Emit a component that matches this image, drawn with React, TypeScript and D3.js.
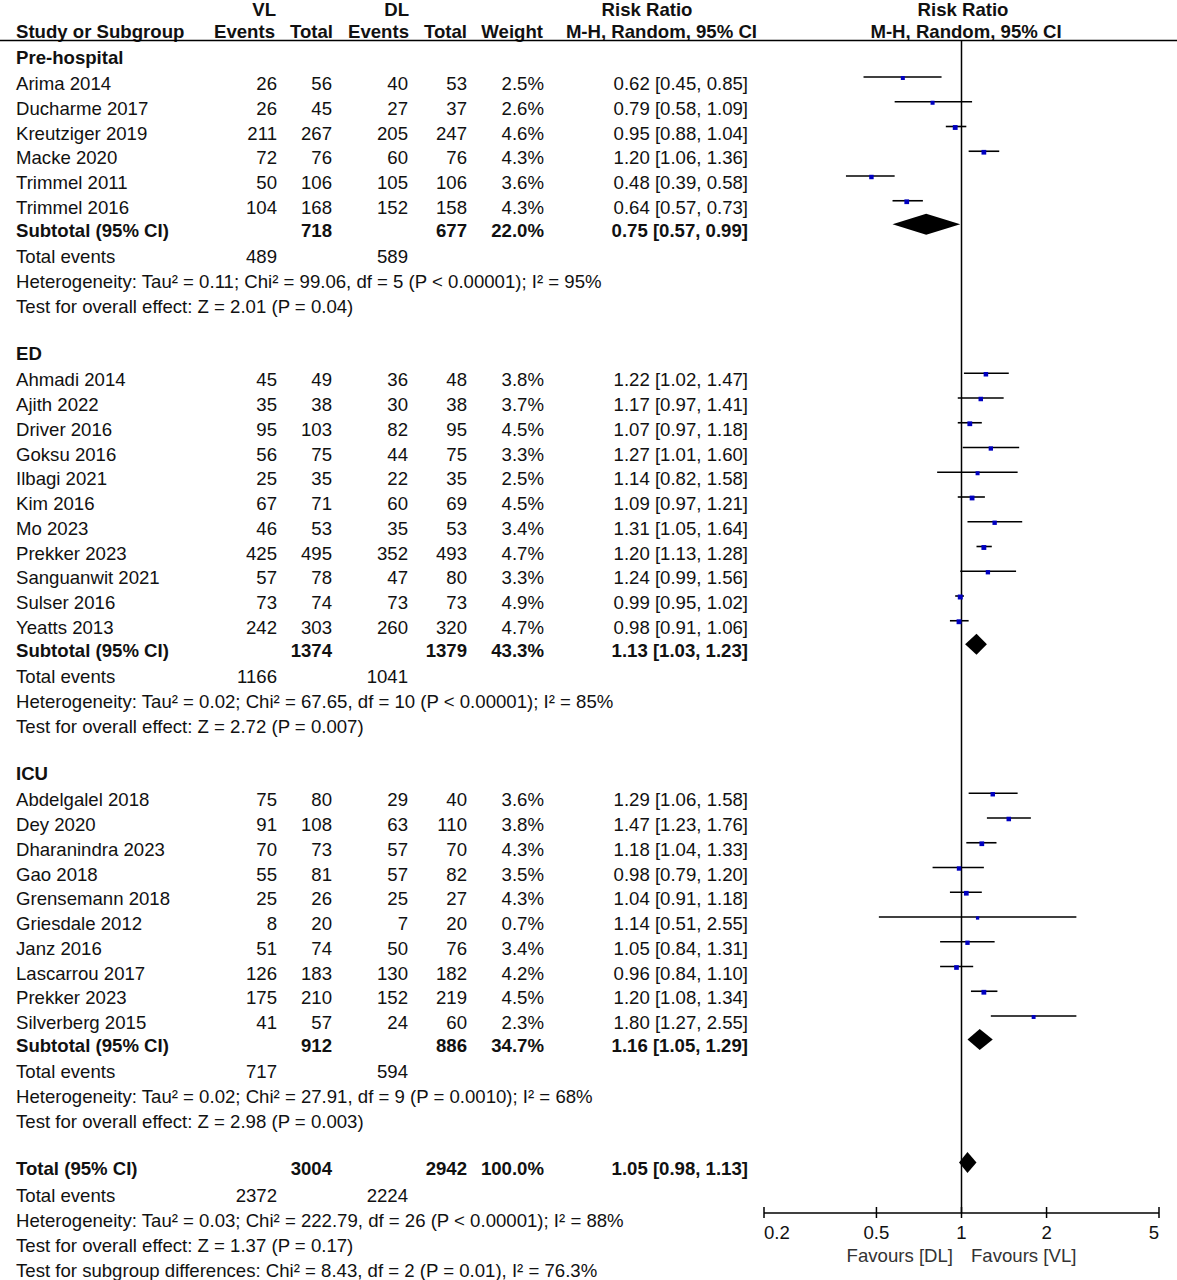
import React from "react";
import * as d3 from "d3";

// ---------- DATA ----------
const groupNames = ["Pre-hospital", "ED", "ICU"];

const studyNames = [
  "Arima 2014", "Ducharme 2017", "Kreutziger 2019", "Macke 2020", "Trimmel 2011", "Trimmel 2016",
  "Ahmadi 2014", "Ajith 2022", "Driver 2016", "Goksu 2016", "Ilbagi 2021", "Kim 2016", "Mo 2023",
  "Prekker 2023", "Sanguanwit 2021", "Sulser 2016", "Yeatts 2013",
  "Abdelgalel 2018", "Dey 2020", "Dharanindra 2023", "Gao 2018", "Grensemann 2018", "Griesdale 2012",
  "Janz 2016", "Lascarrou 2017", "Prekker 2023", "Silverberg 2015",
];
const studyGroup = [0, 0, 0, 0, 0, 0, 1, 1, 1, 1, 1, 1, 1, 1, 1, 1, 1, 2, 2, 2, 2, 2, 2, 2, 2, 2, 2];
const vlEvents = [26, 26, 211, 72, 50, 104, 45, 35, 95, 56, 25, 67, 46, 425, 57, 73, 242, 75, 91, 70, 55, 25, 8, 51, 126, 175, 41];
const vlTotal = [56, 45, 267, 76, 106, 168, 49, 38, 103, 75, 35, 71, 53, 495, 78, 74, 303, 80, 108, 73, 81, 26, 20, 74, 183, 210, 57];
const dlEvents = [40, 27, 205, 60, 105, 152, 36, 30, 82, 44, 22, 60, 35, 352, 47, 73, 260, 29, 63, 57, 57, 25, 7, 50, 130, 152, 24];
const dlTotal = [53, 37, 247, 76, 106, 158, 48, 38, 95, 75, 35, 69, 53, 493, 80, 73, 320, 40, 110, 70, 82, 27, 20, 76, 182, 219, 60];
const weights = [2.5, 2.6, 4.6, 4.3, 3.6, 4.3, 3.8, 3.7, 4.5, 3.3, 2.5, 4.5, 3.4, 4.7, 3.3, 4.9, 4.7, 3.6, 3.8, 4.3, 3.5, 4.3, 0.7, 3.4, 4.2, 4.5, 2.3];
const rr = [0.62, 0.79, 0.95, 1.2, 0.48, 0.64, 1.22, 1.17, 1.07, 1.27, 1.14, 1.09, 1.31, 1.2, 1.24, 0.99, 0.98, 1.29, 1.47, 1.18, 0.98, 1.04, 1.14, 1.05, 0.96, 1.2, 1.8];
const rrLo = [0.45, 0.58, 0.88, 1.06, 0.39, 0.57, 1.02, 0.97, 0.97, 1.01, 0.82, 0.97, 1.05, 1.13, 0.99, 0.95, 0.91, 1.06, 1.23, 1.04, 0.79, 0.91, 0.51, 0.84, 0.84, 1.08, 1.27];
const rrHi = [0.85, 1.09, 1.04, 1.36, 0.58, 0.73, 1.47, 1.41, 1.18, 1.6, 1.58, 1.21, 1.64, 1.28, 1.56, 1.02, 1.06, 1.58, 1.76, 1.33, 1.2, 1.18, 2.55, 1.31, 1.1, 1.34, 2.55];

const subVlTotal = [718, 1374, 912];
const subDlTotal = [677, 1379, 886];
const subWeight = ["22.0%", "43.3%", "34.7%"];
const subRR = [0.75, 1.13, 1.16];
const subLo = [0.57, 1.03, 1.05];
const subHi = [0.99, 1.23, 1.29];
const subVlEvents = [489, 1166, 717];
const subDlEvents = [589, 1041, 594];
const subHetero = [
  "Heterogeneity: Tau² = 0.11; Chi² = 99.06, df = 5 (P < 0.00001); I² = 95%",
  "Heterogeneity: Tau² = 0.02; Chi² = 67.65, df = 10 (P < 0.00001); I² = 85%",
  "Heterogeneity: Tau² = 0.02; Chi² = 27.91, df = 9 (P = 0.0010); I² = 68%",
];
const subEffect = [
  "Test for overall effect: Z = 2.01 (P = 0.04)",
  "Test for overall effect: Z = 2.72 (P = 0.007)",
  "Test for overall effect: Z = 2.98 (P = 0.003)",
];

const totalVlTotal = 3004;
const totalDlTotal = 2942;
const totalWeight = "100.0%";
const totalRR = [1.05, 0.98, 1.13];
const totalVlEvents = 2372;
const totalDlEvents = 2224;
const totalTexts = [
  "Heterogeneity: Tau² = 0.03; Chi² = 222.79, df = 26 (P < 0.00001); I² = 88%",
  "Test for overall effect: Z = 1.37 (P = 0.17)",
  "Test for subgroup differences: Chi² = 8.43, df = 2 (P = 0.01), I² = 76.3%",
];

const axisTicks = [0.2, 0.5, 1, 2, 5];
const favourLeft = "Favours [DL]";
const favourRight = "Favours [VL]";

// ---------- LAYOUT ----------
const W = 1177;
const H = 1280;
const FONT = "'Liberation Sans', Arial, Helvetica, sans-serif";
const FS = 18.6;
const col = { name: 16, vlE: 277, vlT: 332, dlE: 408, dlT: 467, wt: 544, rr: 748 };
const x = d3.scaleLog().domain([0.2, 5]).range([764, 1159]);
const axisY = 1213;
const topLineY = 40.5;
const headY1 = 9.5;

const fmt = (v: number) => v.toFixed(2);
const ciText = (a: number, b: number, c: number) => `${fmt(a)} [${fmt(b)}, ${fmt(c)}]`;

type Row =
  | { kind: "group"; y: number; g: number }
  | { kind: "study"; y: number; i: number }
  | { kind: "subtotal"; y: number; g: number }
  | { kind: "events"; y: number; g: number }
  | { kind: "text"; y: number; t: string }
  | { kind: "total"; y: number }
  | { kind: "totalEvents"; y: number };

function buildRows(): Row[] {
  const rows: Row[] = [];
  let y = 57;
  groupNames.forEach((_, g) => {
    rows.push({ kind: "group", y, g });
    y += 26.5;
    const idx = studyGroup.map((sg, i) => (sg === g ? i : -1)).filter((i) => i >= 0);
    idx.forEach((i, k) => {
      if (k > 0) y += 24.75;
      rows.push({ kind: "study", y, i });
    });
    y += 23;
    rows.push({ kind: "subtotal", y, g });
    y += 26;
    rows.push({ kind: "events", y, g });
    y += 25;
    rows.push({ kind: "text", y, t: subHetero[g] });
    y += 25;
    rows.push({ kind: "text", y, t: subEffect[g] });
    y += 47;
  });
  rows.push({ kind: "total", y });
  y += 26.5;
  rows.push({ kind: "totalEvents", y });
  totalTexts.forEach((t) => {
    y += 25;
    rows.push({ kind: "text", y, t });
  });
  return rows;
}

const T = (props: any) => (
  <text
    dominantBaseline="central"
    fontFamily={FONT}
    fontSize={FS}
    fill="#111"
    {...props}
  />
);

function Diamond({ y, v, lo, hi }: { y: number; v: number; lo: number; hi: number }) {
  const cy = y - 6;
  const h = 10.5;
  const d = `M${x(lo)},${cy} L${x(v)},${cy - h} L${x(hi)},${cy} L${x(v)},${cy + h} Z`;
  return <path d={d} fill="#000" />;
}

export default function App() {
  const rows = buildRows();
  const bold = 700;
  return (
    <svg
      width={W}
      height={H}
      style={{ position: "absolute", left: 0, top: 0, background: "#fff" }}
      xmlns="http://www.w3.org/2000/svg"
    >
      <rect width={W} height={H} fill="#fff" />
      {/* headers */}
      <T x={276} y={headY1} textAnchor="end" fontWeight={bold}>VL</T>
      <T x={409} y={headY1} textAnchor="end" fontWeight={bold}>DL</T>
      <T x={647} y={headY1} textAnchor="middle" fontWeight={bold}>Risk Ratio</T>
      <T x={963} y={headY1} textAnchor="middle" fontWeight={bold}>Risk Ratio</T>
      <T x={col.name} y={31} fontWeight={bold}>Study or Subgroup</T>
      <T x={275} y={31} textAnchor="end" fontWeight={bold}>Events</T>
      <T x={333} y={31} textAnchor="end" fontWeight={bold}>Total</T>
      <T x={409} y={31} textAnchor="end" fontWeight={bold}>Events</T>
      <T x={467} y={31} textAnchor="end" fontWeight={bold}>Total</T>
      <T x={543} y={31} textAnchor="end" fontWeight={bold}>Weight</T>
      <T x={757} y={31} textAnchor="end" fontWeight={bold}>M-H, Random, 95% CI</T>
      <T x={966} y={31} textAnchor="middle" fontWeight={bold}>M-H, Random, 95% CI</T>
      <line x1={0} x2={W} y1={topLineY} y2={topLineY} stroke="#000" strokeWidth={1.5} />

      {/* reference line */}
      <line x1={x(1)} x2={x(1)} y1={topLineY} y2={axisY} stroke="#000" strokeWidth={1.5} />

      {rows.map((r, k) => {
        if (r.kind === "group")
          return <T key={k} x={col.name} y={r.y} fontWeight={bold}>{groupNames[r.g]}</T>;
        if (r.kind === "study") {
          const i = r.i;
          const ly = r.y - 6.5;
          const s = 3 + 0.4 * weights[i];
          return (
            <g key={k}>
              <T x={col.name} y={r.y}>{studyNames[i]}</T>
              <T x={col.vlE} y={r.y} textAnchor="end">{vlEvents[i]}</T>
              <T x={col.vlT} y={r.y} textAnchor="end">{vlTotal[i]}</T>
              <T x={col.dlE} y={r.y} textAnchor="end">{dlEvents[i]}</T>
              <T x={col.dlT} y={r.y} textAnchor="end">{dlTotal[i]}</T>
              <T x={col.wt} y={r.y} textAnchor="end">{weights[i].toFixed(1)}%</T>
              <T x={col.rr} y={r.y} textAnchor="end">{ciText(rr[i], rrLo[i], rrHi[i])}</T>
              <line x1={x(rrLo[i])} x2={x(rrHi[i])} y1={ly} y2={ly} stroke="#000" strokeWidth={1.6} />
              <rect x={x(rr[i]) - s / 2} y={ly + 1 - s / 2} width={s} height={s} fill="#0000c0" />
            </g>
          );
        }
        if (r.kind === "subtotal") {
          const g = r.g;
          return (
            <g key={k}>
              <T x={col.name} y={r.y} fontWeight={bold}>Subtotal (95% CI)</T>
              <T x={col.vlT} y={r.y} textAnchor="end" fontWeight={bold}>{subVlTotal[g]}</T>
              <T x={col.dlT} y={r.y} textAnchor="end" fontWeight={bold}>{subDlTotal[g]}</T>
              <T x={col.wt} y={r.y} textAnchor="end" fontWeight={bold}>{subWeight[g]}</T>
              <T x={col.rr} y={r.y} textAnchor="end" fontWeight={bold}>{ciText(subRR[g], subLo[g], subHi[g])}</T>
              <Diamond y={r.y} v={subRR[g]} lo={subLo[g]} hi={subHi[g]} />
            </g>
          );
        }
        if (r.kind === "events") {
          const g = r.g;
          return (
            <g key={k}>
              <T x={col.name} y={r.y}>Total events</T>
              <T x={col.vlE} y={r.y} textAnchor="end">{subVlEvents[g]}</T>
              <T x={col.dlE} y={r.y} textAnchor="end">{subDlEvents[g]}</T>
            </g>
          );
        }
        if (r.kind === "text")
          return <T key={k} x={col.name} y={r.y}>{r.t}</T>;
        if (r.kind === "total")
          return (
            <g key={k}>
              <T x={col.name} y={r.y} fontWeight={bold}>Total (95% CI)</T>
              <T x={col.vlT} y={r.y} textAnchor="end" fontWeight={bold}>{totalVlTotal}</T>
              <T x={col.dlT} y={r.y} textAnchor="end" fontWeight={bold}>{totalDlTotal}</T>
              <T x={col.wt} y={r.y} textAnchor="end" fontWeight={bold}>{totalWeight}</T>
              <T x={col.rr} y={r.y} textAnchor="end" fontWeight={bold}>{ciText(totalRR[0], totalRR[1], totalRR[2])}</T>
              <Diamond y={r.y} v={totalRR[0]} lo={totalRR[1]} hi={totalRR[2]} />
            </g>
          );
        if (r.kind === "totalEvents")
          return (
            <g key={k}>
              <T x={col.name} y={r.y}>Total events</T>
              <T x={col.vlE} y={r.y} textAnchor="end">{totalVlEvents}</T>
              <T x={col.dlE} y={r.y} textAnchor="end">{totalDlEvents}</T>
            </g>
          );
        return null;
      })}

      {/* axis */}
      <line x1={x(0.2)} x2={x(5)} y1={axisY} y2={axisY} stroke="#000" strokeWidth={1.5} />
      {axisTicks.map((t, i) => (
        <g key={t}>
          <line x1={x(t)} x2={x(t)} y1={axisY - 6} y2={axisY + 5} stroke="#000" strokeWidth={1.5} />
          <T
            x={x(t)}
            y={1232}
            textAnchor={i === 0 ? "start" : i === axisTicks.length - 1 ? "end" : "middle"}
          >
            {String(t)}
          </T>
        </g>
      ))}
      <T x={953} y={1255} textAnchor="end" fill="#333">{favourLeft}</T>
      <T x={971} y={1255} fill="#333">{favourRight}</T>
    </svg>
  );
}
